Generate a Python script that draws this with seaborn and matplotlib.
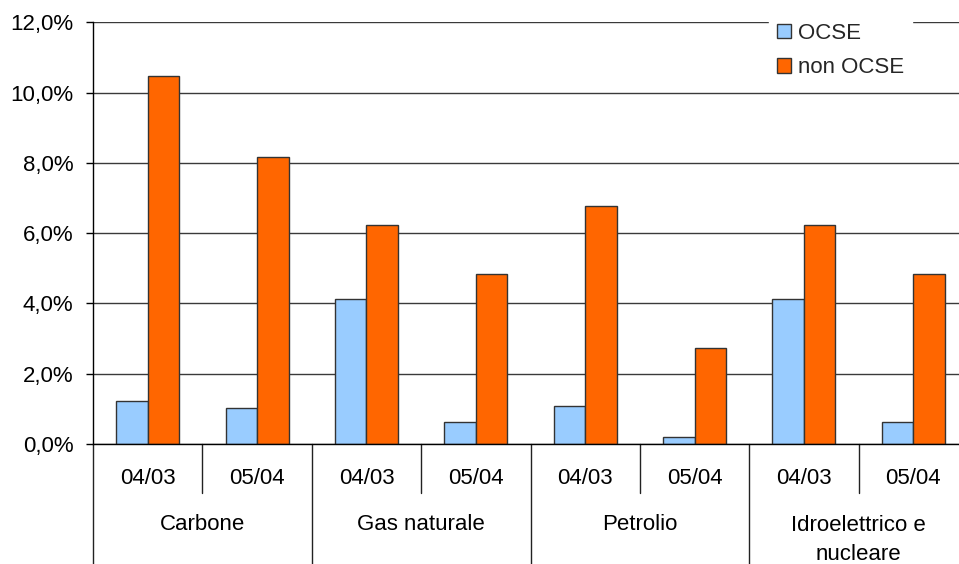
import matplotlib
matplotlib.use("Agg")
import matplotlib.pyplot as plt
import matplotlib.transforms as mtransforms
from matplotlib.ticker import FuncFormatter, MultipleLocator
import seaborn as sns
import pandas as pd

# ---- data ----
groups = ["Carbone", "Gas naturale", "Petrolio", "Idroelettrico e\nnucleare"]
periods = ["04/03", "05/04"]
series = ["OCSE", "non OCSE"]
ocse = [1.23, 1.02, 4.13, 0.63, 1.09, 0.21, 4.13, 0.63]
non_ocse = [10.46, 8.17, 6.23, 4.84, 6.77, 2.74, 6.23, 4.84]

slots = [f"{g}|{p}" for g in groups for p in periods]
rows = []
for s, v in zip(slots, ocse):
    rows.append({"slot": s, "serie": series[0], "valore": v})
for s, v in zip(slots, non_ocse):
    rows.append({"slot": s, "serie": series[1], "valore": v})
df = pd.DataFrame(rows)

sns.set_theme(style="white")
plt.rcParams["font.family"] = ["Liberation Sans", "DejaVu Sans"]

W, H = 959, 564
fig = plt.figure(figsize=(W / 100, H / 100), dpi=100)
ax_left, ax_right, ax_top, ax_bot = 93, 968, 22.3, 444
ax = fig.add_axes([ax_left / W, 1 - ax_bot / H, (ax_right - ax_left) / W, (ax_bot - ax_top) / H])

sns.barplot(data=df, x="slot", y="valore", hue="serie", order=slots, hue_order=series,
            palette={"OCSE": "#99CCFF", "non OCSE": "#FF6600"}, saturation=1,
            width=0.576, gap=0, edgecolor="#333333", linewidth=1.0, ax=ax, legend=True)

ax.set_xlim(-0.5, len(slots) - 0.5)
ax.set_ylim(0, 12)
ax.yaxis.set_major_locator(MultipleLocator(2))
ax.yaxis.set_major_formatter(FuncFormatter(lambda v, p: f"{v:.1f}".replace(".", ",") + "%"))
ax.yaxis.grid(True, color="#3a3a3a", linewidth=1.0)
ax.set_axisbelow(True)
ax.set_xlabel("")
ax.set_ylabel("")
ax.set_xticks([])
for side in ["top", "right"]:
    ax.spines[side].set_visible(False)
for side in ["left", "bottom"]:
    ax.spines[side].set_color("black")
    ax.spines[side].set_linewidth(1.0)
ax.tick_params(axis="y", left=True, length=5, width=1, color="black", pad=9,
               labelsize=16, labelcolor="black")

# multi-level x labels
plot_h = ax_bot - ax_top
def ay(px):
    return (ax_bot - px) / plot_h

trans = mtransforms.blended_transform_factory(ax.transData, ax.transAxes)
for i, s in enumerate(slots):
    p = s.split("|")[1]
    ax.text(i, ay(479), p, transform=trans, ha="center", va="center", fontsize=16, color="black")
for gi, g in enumerate(groups):
    cx = gi * 2 + 0.5
    yy = ay(540) if "\n" in g else ay(525)
    ax.text(cx, yy, g, transform=trans, ha="center", va="center", fontsize=16,
            color="black", linespacing=1.45)
# separators
for k in range(len(slots) + 1):
    x = k - 0.5
    y_end = ay(493) if k % 2 == 1 else ay(H)
    ax.plot([x, x], [0, y_end], transform=trans, color="#222222", lw=1.0, clip_on=False)

# legend
handles, labels = ax.get_legend_handles_labels()
ax.legend(handles, labels, loc="upper left", bbox_to_anchor=(769 / W, 1 - 15 / H),
          bbox_transform=fig.transFigure, frameon=True, facecolor="white", edgecolor="white",
          framealpha=1, fancybox=False, fontsize=16, handlelength=0.65, handleheight=0.65,
          handletextpad=0.3, labelspacing=0.6, borderpad=0.35, borderaxespad=0)

fig.savefig("out.png", dpi=100)
